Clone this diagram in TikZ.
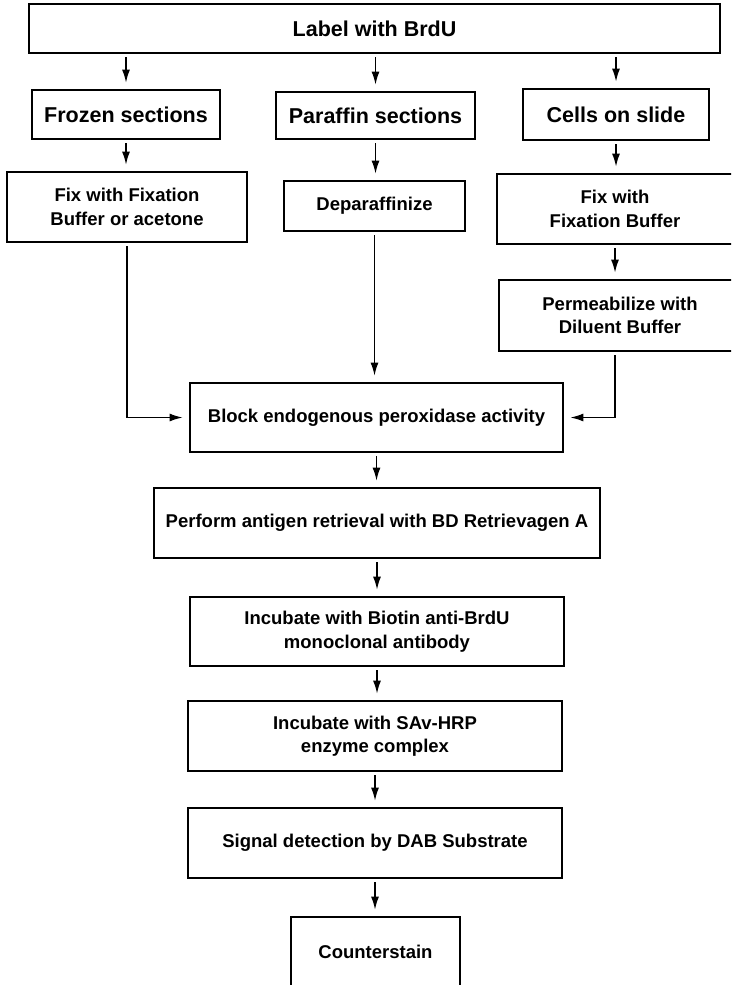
\documentclass[tikz,border=0pt]{standalone}
\usepackage{fontspec}
\setmainfont{Liberation Sans}
\usetikzlibrary{positioning,calc,arrows.meta}

\tikzset{
  stepbox/.style={draw, line width=2.8pt, align=center, inner sep=0pt,
    font=\fontsize{18.5}{23.5}\selectfont\bfseries},
  headbox/.style={stepbox, font=\fontsize{21.5}{25}\selectfont\bfseries},
  flow/.style={line width=1.4pt, -{Latex[length=13pt,width=8pt]},
    shorten <=3pt, shorten >=6pt},
}

\begin{document}
\begin{tikzpicture}[x=1pt,y=-1pt]
  \useasboundingbox (0,0) rectangle (731,985);
  \clip (0,0) rectangle (731,985);

  % top and the three kinds of sample
  \node[headbox, minimum width=691pt, minimum height=49pt] (label) at (374.5,28.5) {Label with BrdU};
  \node[headbox, minimum width=188pt, minimum height=49pt] (frozen) at (126,114.5) {Frozen sections};
  \node[headbox, minimum width=199pt, minimum height=47pt] (paraffin) at (375.5,115.5) {Paraffin sections};
  \node[headbox, minimum width=186pt, minimum height=51pt] (cells) at (616,114.5) {Cells on slide};

  % preparation
  \node[stepbox, minimum width=240pt, minimum height=70pt] (fixL) at (127,207) {Fix with Fixation\\Buffer or acetone};
  \node[stepbox, minimum width=181pt, minimum height=50pt] (depar) at (374.5,206) {Deparaffinize};
  \node[stepbox, minimum width=236pt, minimum height=70pt] (fixR) at (615,209) {Fix with\\Fixation Buffer};
  \node[stepbox, minimum width=242pt, minimum height=71pt] (perm) at (620,315.5) {Permeabilize with\\Diluent Buffer};

  % staining
  \node[stepbox, minimum width=373pt, minimum height=69pt] (block) at (376.5,417.5) {Block endogenous peroxidase activity};
  \node[stepbox, minimum width=446pt, minimum height=70pt] (perform) at (377,523) {Perform antigen retrieval with BD Retrievagen A};
  \node[stepbox, minimum width=374pt, minimum height=69pt] (biotin) at (377,631.5) {Incubate with Biotin anti-BrdU\\monoclonal antibody};
  \node[stepbox, minimum width=374pt, minimum height=70pt] (sav) at (375,736) {Incubate with SAv-HRP\\enzyme complex};
  \node[stepbox, minimum width=374pt, minimum height=70pt] (signal) at (375,843) {Signal detection by DAB Substrate};
  \node[stepbox, minimum width=169pt, minimum height=70pt] (counter) at (375.5,952) {Counterstain};

  \foreach \b in {frozen,paraffin,cells}
    \draw[flow] (label.south -| \b.north) -- (\b.north);
  \foreach \a/\b in {frozen/fixL,paraffin/depar,cells/fixR,fixR/perm,depar/block,
                     block/perform,perform/biotin,biotin/sav,sav/signal,signal/counter}
    \draw[flow] (\a.south) -- (\a.south |- \b.north);

  \draw[flow] (fixL.south) |- (block.west);
  \draw[flow] (perm.south -| fixR.south) |- (block.east);
\end{tikzpicture}
\end{document}
